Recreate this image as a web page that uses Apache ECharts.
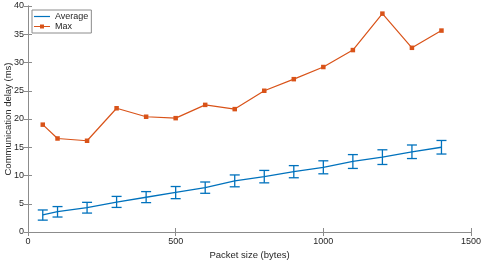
<!DOCTYPE html>
<html><head><meta charset="utf-8">
<script src="https://cdn.jsdelivr.net/npm/echarts@6/dist/echarts.min.js"></script>
<style>html,body{margin:0;padding:0;background:#fff}#c{width:485px;height:262px}</style>
</head><body><div id="c"></div>
<script>
var packetSizes = [50,100,200,300,400,500,600,700,800,900,1000,1100,1200,1300,1400];
var avgDelay = [3.05,3.6,4.3,5.3,6.15,7.0,7.85,9.05,9.8,10.7,11.45,12.5,13.25,14.2,15.0];
var avgLow = [2.1,2.65,3.35,4.35,5.2,5.9,6.85,8.0,8.7,9.6,10.3,11.25,11.95,13.0,13.8];
var avgHigh = [3.9,4.5,5.25,6.3,7.15,8.05,8.85,10.1,10.9,11.75,12.6,13.7,14.55,15.4,16.2];
var maxDelay = [19.0,16.55,16.15,21.9,20.4,20.15,22.5,21.75,25.0,27.05,29.2,32.2,38.65,32.6,35.65];
var xTicks = [0,500,1000,1500];

var blue = '#0072BD', orange = '#D95319', axisCol = '#8c8c8c', txt = '#262626';
var font = 'Liberation Sans, Arial, sans-serif';

var avgData = packetSizes.map(function(x,i){return [x,avgDelay[i]];});
var maxData = packetSizes.map(function(x,i){return [x,maxDelay[i]];});
var errData = packetSizes.map(function(x,i){return [x,avgLow[i],avgHigh[i]];});

var chart = echarts.init(document.getElementById('c'), null, {renderer:'canvas'});
var axisBase = {
  axisLine:{show:true,lineStyle:{color:axisCol,width:1}},
  axisTick:{show:true,inside:true,length:4,lineStyle:{color:axisCol}},
  splitLine:{show:false}
};
function plain(v){return String(v);}
chart.setOption({
  animation:false,
  grid:{left:28,right:14,top:6,bottom:30,containLabel:false,outerBoundsMode:'none'},
  legend:{
    left:32, top:10, orient:'vertical', itemGap:1, itemWidth:16, itemHeight:8,
    padding:[2,3,2,2], borderColor:axisCol, borderWidth:1, backgroundColor:'#fff',
    textStyle:{fontSize:9,color:txt,fontFamily:font},
    data:[{name:'Average',icon:'path://M0,4.4 L16,4.4 L16,5.6 L0,5.6 Z'},
          {name:'Max',icon:'path://M0,4.4 L16,4.4 L16,5.6 L0,5.6 Z M6,3 L10,3 L10,7 L6,7 Z'}]
  },
  xAxis:[
    Object.assign({type:'value',min:0,max:1500,interval:500,position:'bottom',
      name:'Packet size (bytes)',nameLocation:'middle',nameGap:18,nameMoveOverlap:false,
      nameTextStyle:{fontSize:9.5,color:txt,fontFamily:font},
      axisLabel:{fontSize:9,color:txt,fontFamily:font,margin:5,formatter:plain}},axisBase),
    Object.assign({type:'value',min:0,max:1500,interval:500,position:'top',
      axisLabel:{show:false}},axisBase)
  ],
  yAxis:[
    Object.assign({type:'value',min:0,max:40,interval:5,position:'left',
      name:'Communication delay (ms)',nameLocation:'middle',nameGap:15,nameMoveOverlap:false,
      nameTextStyle:{fontSize:9.5,color:txt,fontFamily:font},
      axisLabel:{fontSize:9,color:txt,fontFamily:font,margin:4,formatter:plain}},axisBase),
    Object.assign({type:'value',min:0,max:40,interval:5,position:'right',
      axisLabel:{show:false}},axisBase)
  ],
  series:[
    {name:'Average',type:'line',data:avgData,showSymbol:false,symbol:'none',
      lineStyle:{color:blue,width:1.3},itemStyle:{color:blue},z:3},
    {name:'AvgErr',type:'custom',data:errData,z:4,
      renderItem:function(params,api){
        var x = api.value(0);
        var lo = api.coord([x,api.value(1)]);
        var hi = api.coord([x,api.value(2)]);
        var hw = 5;
        var st = {stroke:blue,lineWidth:1.3,fill:null};
        return {type:'group',children:[
          {type:'line',shape:{x1:lo[0],y1:lo[1],x2:hi[0],y2:hi[1]},style:st},
          {type:'line',shape:{x1:lo[0]-hw,y1:lo[1],x2:lo[0]+hw,y2:lo[1]},style:st},
          {type:'line',shape:{x1:hi[0]-hw,y1:hi[1],x2:hi[0]+hw,y2:hi[1]},style:st}
        ]};
      }},
    {name:'Max',type:'line',data:maxData,symbol:'rect',symbolSize:4.5,showSymbol:true,
      lineStyle:{color:orange,width:1.2},itemStyle:{color:orange},z:3}
  ]
});
</script></body></html>
